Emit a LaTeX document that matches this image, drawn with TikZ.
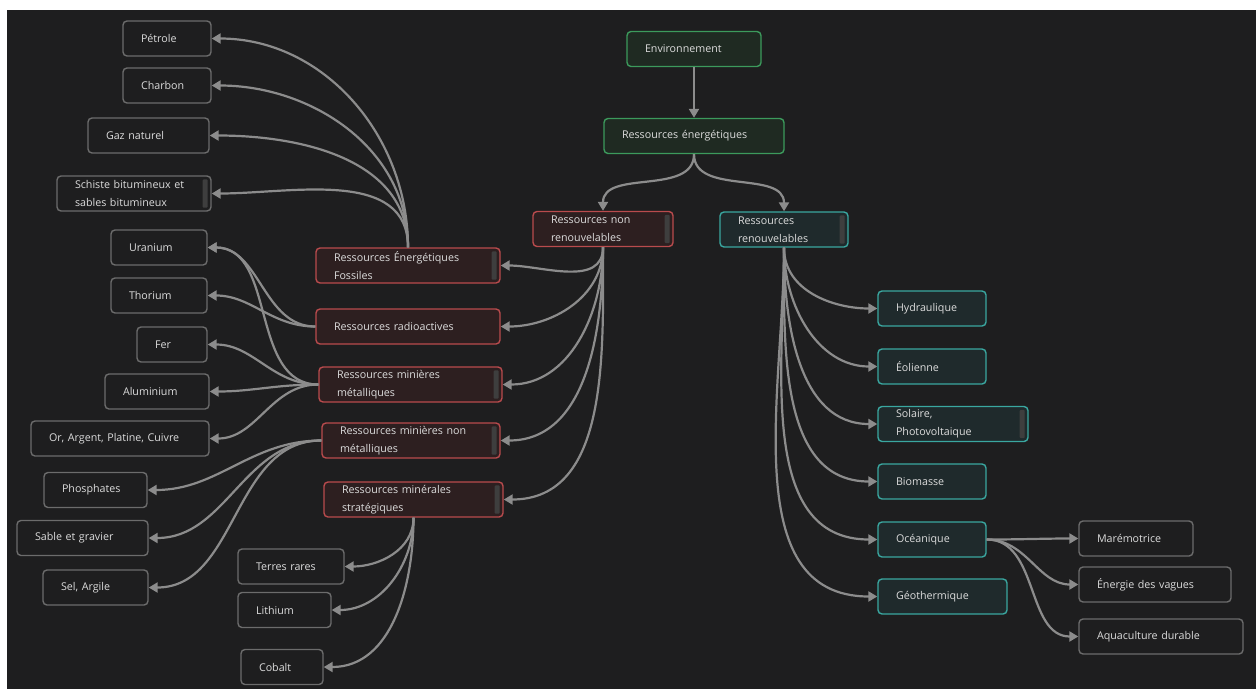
\documentclass[tikz,border=0pt]{standalone}
\usepackage{fontspec}
\setmainfont{Open Sans}
\usepackage{tikz}
\usetikzlibrary{arrows.meta}

\definecolor{fond}{HTML}{1E1E1F}
\definecolor{texte}{HTML}{DCDCDC}
\definecolor{lien}{HTML}{8C8C8C}
\definecolor{vertbord}{HTML}{3C9A5C}
\definecolor{vertfond}{HTML}{1F2A22}
\definecolor{rougebord}{HTML}{B94B4D}
\definecolor{rougefond}{HTML}{2D1F20}
\definecolor{tealbord}{HTML}{3AA7A0}
\definecolor{tealfond}{HTML}{1F2A2C}
\definecolor{grisbord}{HTML}{6C6C6C}
\definecolor{barre}{HTML}{3E3E3E}

\begin{document}
\begin{tikzpicture}[x=1pt,y=-1pt,
    boite/.style={rectangle,rounded corners=4pt,line width=1.4pt,minimum height=35pt,
      inner xsep=18pt,inner ysep=0pt,align=left,text=texte,text width=#1-36pt,
      font=\fontsize{10.7}{18}\selectfont},
    vert/.style={boite=#1,draw=vertbord,fill=vertfond},
    rouge/.style={boite=#1,draw=rougebord,fill=rougefond},
    bleu/.style={boite=#1,draw=tealbord,fill=tealfond},
    feuille/.style={boite=#1,draw=grisbord,fill=fond},
    lien/.style={draw=lien,line width=2.2pt,-{Triangle[length=9pt,width=10pt]}}]
    % fond sombre
    \fill[white] (0,0) rectangle (1256,689);
    \fill[fond] (7,10) rectangle (1256,689);
    % tronc
    \node[vert=134pt] (env) at (694,49) {Environnement};
    \node[vert=180pt] (energ) at (694,136) {Ressources énergétiques};
    % ressources non renouvelables
    \node[rouge=140pt] (nonren) at (603,229) {Ressources non\\renouvelables};
    \node[rouge=184pt] (fos) at (408,265.5) {Ressources Énergétiques\\Fossiles};
    \node[rouge=184pt] (radio) at (408,326.5) {Ressources radioactives};
    \node[rouge=183pt] (met) at (410.5,384.5) {Ressources minières\\métalliques};
    \node[rouge=178pt] (nmet) at (411,440.5) {Ressources minières non\\métalliques};
    \node[rouge=179pt] (strat) at (413.5,499.5) {Ressources minérales\\stratégiques};
    % ressources renouvelables
    \node[bleu=128pt] (ren) at (784,229.5) {Ressources\\renouvelables};
    \node[bleu=108pt] (hyd) at (932,308.5) {Hydraulique};
    \node[bleu=108pt] (eol) at (932,366.5) {Éolienne};
    \node[bleu=150pt] (sol) at (953,424) {Solaire,\\Photovoltaique};
    \node[bleu=108pt] (bio) at (932,481.5) {Biomasse};
    \node[bleu=108pt] (oce) at (932,539.5) {Océanique};
    \node[bleu=129pt] (geo) at (942.5,596.5) {Géothermique};
    \node[feuille=114pt] (mare) at (1136,538.5) {Marémotrice};
    \node[feuille=152pt] (vag) at (1155,584.5) {Énergie des vagues};
    \node[feuille=164pt] (aqua) at (1161,636.5) {Aquaculture durable};
    % feuilles de gauche
    \node[feuille=88pt] (pet) at (167,38.5) {Pétrole};
    \node[feuille=88pt] (cha) at (167,85.5) {Charbon};
    \node[feuille=121pt] (gaz) at (148.5,135.5) {Gaz naturel};
    \node[feuille=154pt] (sch) at (134,193.5) {Schiste bitumineux et\\sables bitumineux};
    \node[feuille=96pt] (ura) at (159,247.5) {Uranium};
    \node[feuille=96pt] (tho) at (159,295.5) {Thorium};
    \node[feuille=70pt] (fer) at (172,344.5) {Fer};
    \node[feuille=104pt] (alu) at (157,391.5) {Aluminium};
    \node[feuille=178pt] (or) at (120,438.5) {Or, Argent, Platine, Cuivre};
    \node[feuille=103pt] (pho) at (95.5,490) {Phosphates};
    \node[feuille=131pt] (sab) at (82.5,538) {Sable et gravier};
    \node[feuille=105pt] (sel) at (95.5,587.5) {Sel, Argile};
    \node[feuille=106pt] (ter) at (291,566.5) {Terres rares};
    \node[feuille=93pt] (lit) at (284.5,610) {Lithium};
    \node[feuille=82pt] (cob) at (282,667) {Cobalt};
    % barres de défilement
    \foreach \n in {sch,fos,nonren,met,nmet,strat,ren,sol}
      \fill[barre,rounded corners=1pt] ([xshift=-9pt,yshift=-4pt]\n.north east)
        rectangle ([xshift=-4pt,yshift=4pt]\n.south east);
    % liens
    \draw[lien] (env) -- (energ);
    \draw[lien] (energ.south) to[out=-90,in=90] (nonren.north);
    \draw[lien] (energ.south) to[out=-90,in=90] (ren.north);
    \foreach \t in {fos,radio,met,nmet,strat}
      \draw[lien] (nonren.south) to[out=-90,in=0] (\t.east);
    \foreach \t in {hyd,eol,sol,bio,oce,geo}
      \draw[lien] (ren.south) to[out=-90,in=180] (\t.west);
    \foreach \t in {mare,vag,aqua}
      \draw[lien] (oce.east) to[out=0,in=180] (\t.west);
    \foreach \t in {pet,cha,gaz,sch}
      \draw[lien] (fos.north) to[out=90,in=0] (\t.east);
    \foreach \t in {ura,tho}
      \draw[lien] (radio.west) to[out=180,in=0] (\t.east);
    \foreach \t in {ura,fer,alu,or}
      \draw[lien] (met.west) to[out=180,in=0] (\t.east);
    \foreach \t in {pho,sab,sel}
      \draw[lien] (nmet.west) to[out=180,in=0] (\t.east);
    \foreach \t in {ter,lit,cob}
      \draw[lien] (strat.south) to[out=-90,in=0] (\t.east);
\end{tikzpicture}
\end{document}
